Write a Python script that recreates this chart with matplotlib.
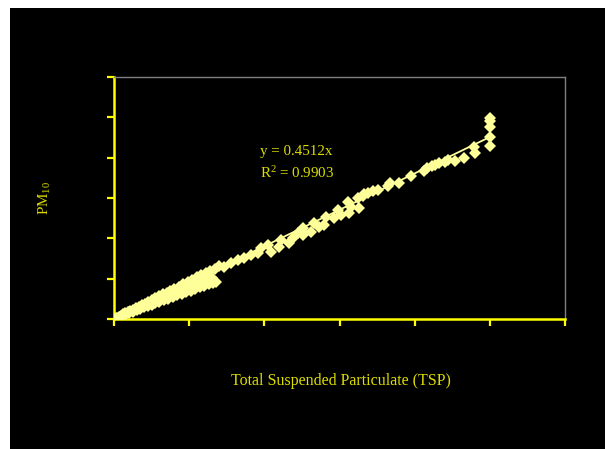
import matplotlib
matplotlib.use("Agg")
import matplotlib.pyplot as plt
from matplotlib.patches import Rectangle
import numpy as np

plt.rcParams["mathtext.fontset"] = "custom"
plt.rcParams["mathtext.rm"] = "Liberation Serif"
plt.rcParams["mathtext.it"] = "Liberation Serif:italic"

# Total Suspended Particulate (TSP) vs PM10
tsp_upper = [3, 6, 9, 12, 15, 18, 21, 25, 29, 33, 37, 41, 45, 50, 55, 60, 65, 70, 75, 80,
             86, 92, 98, 104, 110, 116, 122, 128, 134, 140]
pm_upper = [1.5, 2.9, 4.3, 5.6, 7.2, 8.4, 10.0, 11.6, 13.7, 15.3, 17.5, 19.1, 21.3, 23.4, 26.0,
            27.9, 30.6, 32.8, 35.1, 37.5, 40.2, 43.3, 45.9, 48.6, 51.8, 54.3, 57.2, 60.1, 62.6, 65.8]

tsp_lower = [4, 8, 12, 16, 20, 25, 30, 35, 40, 45, 50, 55, 60, 66, 72, 78, 84, 90, 96, 102,
             108, 114, 120, 126, 132, 136]
pm_lower = [1.5, 2.9, 4.4, 5.8, 7.3, 9.0, 10.9, 12.5, 14.4, 16.1, 17.8, 19.7, 21.3, 23.5, 25.4,
            27.6, 29.5, 31.4, 33.5, 35.3, 37.2, 39.3, 41.0, 42.9, 44.6, 45.5]

tsp_mid = [10, 20, 30, 40, 50, 60, 70, 80, 90, 100, 110, 120, 130]
pm_mid = [4.1, 8.3, 12.2, 16.6, 20.4, 24.8, 28.5, 33.1, 36.8, 41.2, 45.0, 49.4, 50.5]

tsp_high = [145.7, 155.1, 164.4, 172.5, 181.8, 191.2, 195.2, 204.5, 208.6, 219.3, 222.0, 232.6,
            238.0, 244.7, 251.3, 251.3, 252.7, 262.0, 266.0, 272.7, 279.4, 282.0, 292.8, 298.1,
            302.1, 311.5, 312.8, 315.5, 326.2, 324.9, 331.6, 332.9, 338.2, 345.0, 351.6, 365.0,
            367.6, 379.7, 395.7, 411.8, 415.8, 422.5, 426.5, 432.0, 440.0, 445.0, 453.0, 465.0,
            480.0, 478.6, 500.0, 500.0, 500.0, 500.0, 500.0]
pm_high = [64.4, 69.3, 73.0, 75.5, 79.2, 81.7, 87.9, 91.6, 82.9, 89.1, 97.8, 94.1,
           100.2, 106.4, 104.0, 112.6, 106.4, 107.7, 118.8, 113.9, 116.3, 126.2, 125.0, 134.9,
           128.7, 144.8, 131.2, 138.6, 137.3, 149.7, 152.2, 154.7, 155.9, 158.4, 159.7, 164.6,
           168.3, 168.3, 177.0, 183.2, 186.9, 189.4, 190.6, 193.0, 194.3, 196.8, 195.5, 199.2,
           205.4, 212.9, 248.8, 245.0, 237.6, 225.2, 214.1]

slope = 0.4512
r2 = 0.9903

x_ticks = [0, 100, 200, 300, 400, 500, 600]
y_ticks = [0, 50, 100, 150, 200, 250, 300]

fig = plt.figure(figsize=(6.05, 4.49), dpi=100, facecolor="white")
fig.patches.append(Rectangle((10 / 605, 0), 1, 1 - 8 / 449, transform=fig.transFigure,
                             facecolor="black", edgecolor="none", zorder=-10))

ax = fig.add_axes([114 / 605, 1 - 319 / 449, (565 - 114) / 605, (319 - 77) / 449])
ax.set_facecolor("black")

tsp = tsp_upper + tsp_lower + tsp_mid + tsp_high
pm = pm_upper + pm_lower + pm_mid + pm_high
marker_col = "#FFFF99"
ax.plot(tsp, pm, linestyle="none", marker="D", markersize=5.8, color=marker_col,
        markeredgewidth=0, zorder=3)

xl = np.array([0, max(tsp)])
ax.plot(xl, slope * xl, color=marker_col, linewidth=1.3, zorder=2)

ax.set_xlim(x_ticks[0], x_ticks[-1])
ax.set_ylim(y_ticks[0], y_ticks[-1])
ax.set_xticks(x_ticks)
ax.set_yticks(y_ticks)
ax.set_xticklabels([])
ax.set_yticklabels([])
ax.tick_params(axis="both", direction="out", length=5, width=1.6, color="#FFFF00")

for s in ["left", "bottom"]:
    ax.spines[s].set_color("#FFFF00")
    ax.spines[s].set_linewidth(1.8)
for s in ["top", "right"]:
    ax.spines[s].set_color("#808080")
    ax.spines[s].set_linewidth(1.0)

txt_col = "#DDDD00"
font = "Liberation Serif"
fig.text(260 / 605, 1 - 151 / 449, f"y = {slope}x", fontsize=10.8, color=txt_col,
         family=font, va="center", ha="left")
fig.text(260 / 605, 1 - 173 / 449, f"R$^2$ = {r2}", fontsize=10.8, color=txt_col,
         family=font, va="center", ha="left")

fig.text(341 / 605, 1 - 381 / 449, "Total Suspended Particulate (TSP)", fontsize=11.5,
         color=txt_col, family=font, va="center", ha="center")
fig.text(45 / 605, 1 - 198 / 449, "PM$_{10}$", fontsize=10.8, color=txt_col, family=font,
         va="center", ha="center", rotation=90)

fig.savefig("out.png", dpi=100, facecolor="white")
